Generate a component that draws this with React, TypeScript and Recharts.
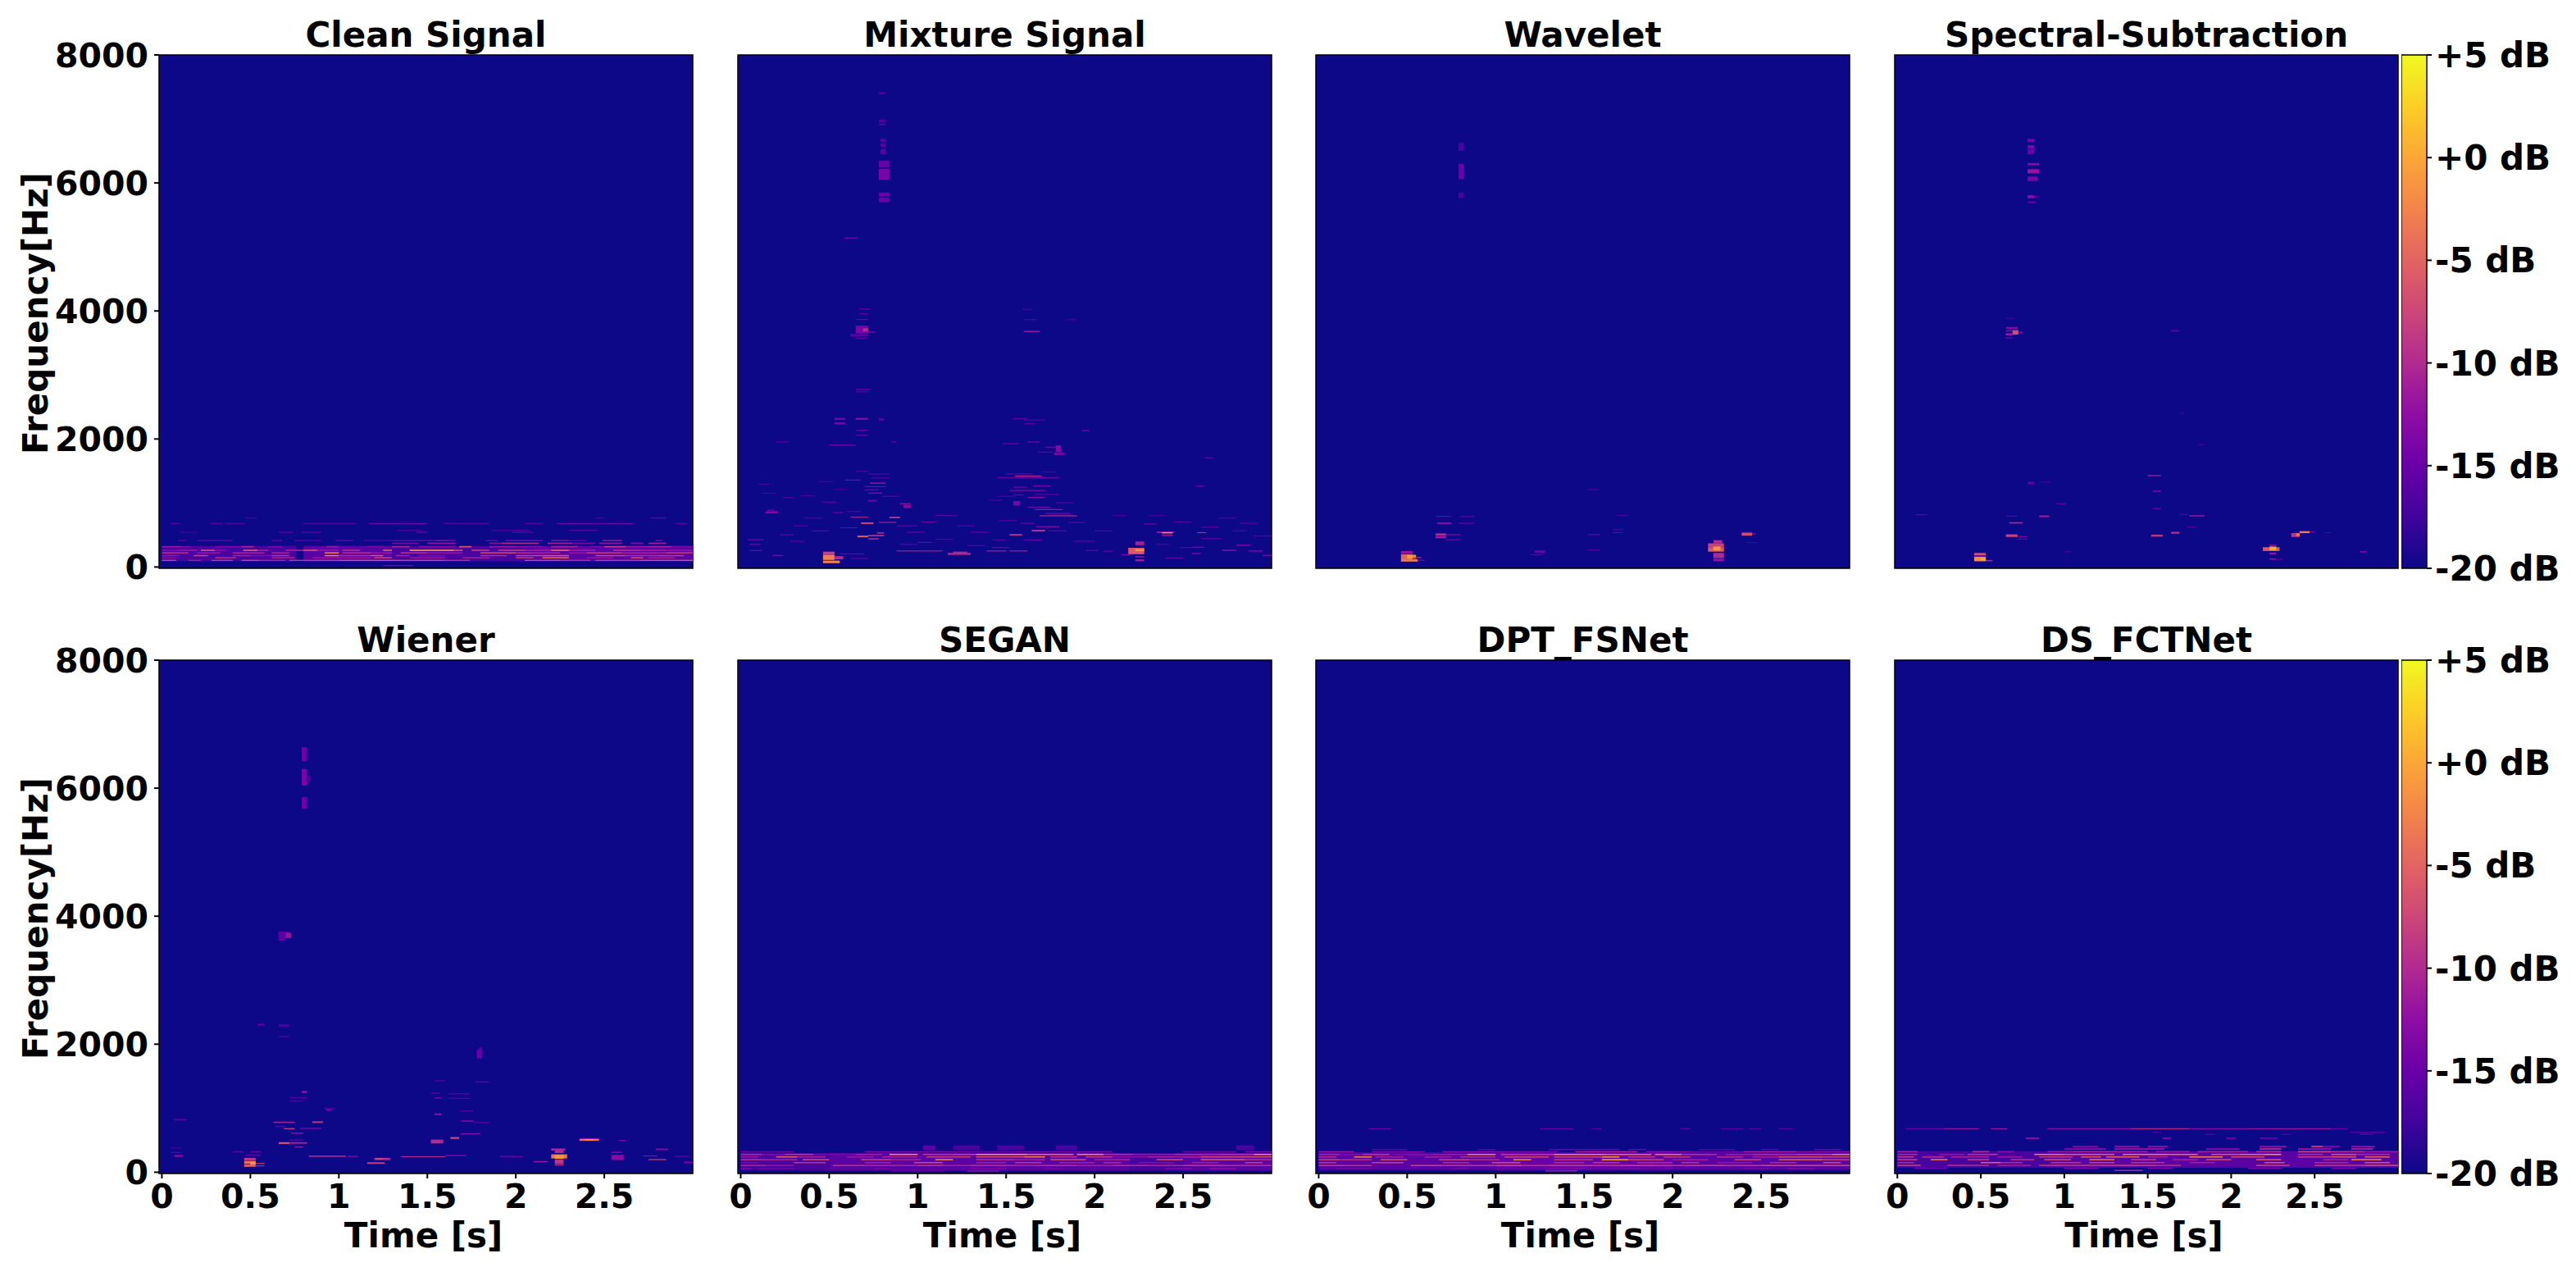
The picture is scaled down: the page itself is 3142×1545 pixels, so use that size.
import { Bar, BarChart, ReferenceArea, Scatter, ScatterChart, XAxis, YAxis } from 'recharts';

type Spot = [number, number, number, number, number]; // t0, t1, f0, f1, dB
type Row = [number, number, [number, number, number][]]; // f0, f1, runs of t0, t1, dB

const timeTicks = [0, 0.5, 1, 1.5, 2, 2.5];
const freqTicks = [0, 2000, 4000, 6000, 8000];
const dbTicks = [-20, -15, -10, -5, 0, 5];
const plasmaStops = ['#0d0887', '#41049d', '#6a00a8', '#8f0da4', '#b12a90', '#cc4778', '#e16462', '#f2844b', '#fca636', '#fcce25', '#f0f921'];

const cleanRows: Row[] = [
  [90, 330, [[0, .76, -17], [.8, 1.3, -16], [1.3, 2.1, -17], [2.1, 3, -16]]],
  [760, 772, [[.47, .54, -17], [2.45, 2.5, -17], [2.76, 2.85, -15]]],
  [674, 686, [[.05, .1, -16], [.27, .34, -16], [.36, .47, -16], [.8, 1.1, -16], [1.17, 1.5, -15], [1.59, 1.85, -16], [2.05, 2.15, -16], [2.23, 2.67, -15], [2.9, 2.97, -16]]],
  [565, 578, [[1.33, 1.47, -16], [1.86, 2.08, -16], [2.3, 2.46, -15]]],
  [535, 550, [[.1, .2, -17], [.66, .74, -15], [.79, .9, -15], [1.44, 1.5, -14], [1.98, 2.1, -15]]],
  [405, 422, [[.09, .14, -16], [.2, .4, -15], [.62, .68, -15], [.75, .9, -16], [.98, 1.08, -15], [1.14, 1.3, -16], [1.3, 1.55, -14], [1.55, 1.62, -12], [1.62, 1.66, -14], [1.83, 1.9, -14], [1.94, 2.15, -13], [2.2, 2.3, -12], [2.3, 2.4, -15], [2.49, 2.6, -11], [2.79, 2.83, -13]]],
  [360, 382, [[1.3, 1.45, -14], [1.5, 1.66, -12], [1.85, 1.92, -13], [1.92, 2.13, -10], [2.18, 2.32, -11], [2.32, 2.45, -14], [2.47, 2.6, -12], [2.65, 2.72, -13], [2.75, 2.85, -11]]],
  [305, 328, [[0, .11, -12], [.11, .16, -14], [.3, .45, -14], [.45, .52, -11], [.6, .68, -14], [.93, 1, -12], [1.16, 1.25, -14], [1.3, 1.4, -11], [1.45, 1.66, -13], [1.68, 1.75, -7], [1.85, 2, -12], [2, 2.15, -13], [2.2, 2.35, -11], [2.42, 2.5, -14], [2.5, 2.62, -9], [2.62, 2.75, -12], [2.75, 2.88, -11], [2.88, 3, -14]]],
  [250, 272, [[0, .1, -13], [.1, .2, -12], [.22, .3, -7], [.3, .36, -13], [.46, .54, -6], [.54, .6, -11], [.7, .8, -11], [.8, .88, -7], [.88, 1, -12], [1.02, 1.12, -10], [1.25, 1.3, -6], [1.4, 1.65, -2], [1.65, 1.7, -7], [1.75, 1.85, -9], [1.9, 2.05, -9], [2.05, 2.2, -11], [2.2, 2.3, -5], [2.3, 2.45, -11], [2.55, 2.7, -10], [2.7, 2.85, -11], [2.85, 3, -12]]],
  [210, 232, [[0, .15, -10], [.2, .33, -12], [.4, .58, -11], [.62, .72, -11], [.92, 1, -4], [1.02, 1.18, -10], [1.18, 1.3, -12], [1.35, 1.5, -10], [1.5, 1.7, -12], [1.8, 2, -8], [2, 2.1, -10], [2.1, 2.25, -11], [2.3, 2.4, -12], [2.4, 2.6, -9], [2.6, 2.85, -11], [2.85, 3, -9]]],
  [168, 188, [[0, .1, -12], [.18, .26, -8], [.4, .5, -11], [.5, .62, -13], [.62, .72, -9], [.92, 1, -3], [1, 1.18, -10], [1.18, 1.25, -6], [1.32, 1.4, -11], [1.45, 1.6, -13], [1.8, 1.95, -10], [2, 2.15, -8], [2.15, 2.3, -6], [2.45, 2.62, -8], [2.62, 2.8, -10], [2.8, 2.95, -9]]],
  [135, 155, [[0, .08, -13], [.3, .42, -10], [.62, .75, -11], [.85, 1, -12], [1, 1.18, -12], [1.2, 1.3, -8], [1.4, 1.6, -12], [1.7, 1.85, -11], [2, 2.1, -9], [2.15, 2.3, -5], [2.4, 2.55, -12], [2.65, 2.72, -7], [2.75, 2.9, -11]]],
  [96, 112, [[0, .08, -7], [.15, .22, -11], [.28, .4, -8], [.45, .55, -7], [.55, .7, -10], [.72, .82, -8], [.82, 1, -8], [1, 1.35, -6], [1.35, 1.6, -7], [1.6, 1.74, -9], [2.05, 2.25, -7], [2.25, 2.42, -9], [2.45, 2.7, -8], [2.7, 3, -6]]],
  [18, 28, [[1.25, 1.42, -14]]],
];

const mixtureSpots: Spot[] = [
  [.78, .82, 7380, 7420, -17], [.78, .82, 6950, 6990, -17], [.78, .82, 6900, 6930, -17],
  [.79, .82, 6640, 6690, -16], [.79, .82, 6560, 6620, -16], [.79, .82, 6450, 6530, -16],
  [.78, .84, 6240, 6350, -15], [.78, .84, 6050, 6220, -14], [.78, .84, 5790, 5850, -15], [.78, .84, 5700, 5770, -15],
  [.59, .66, 5130, 5150, -15], [.67, .73, 4020, 4040, -16], [.67, .72, 3950, 3965, -16], [.65, .72, 3860, 3875, -15],
  [.65, .72, 3650, 3770, -14], [.69, .72, 3680, 3730, -10], [.72, .76, 3660, 3680, -14], [.62, .72, 3600, 3640, -16], [.65, .72, 3565, 3580, -16],
  [1.59, 1.65, 4020, 4030, -17], [1.6, 1.67, 3860, 3870, -16], [1.6, 1.69, 3670, 3690, -12], [1.84, 1.9, 3860, 3870, -17],
  [.65, .73, 2765, 2785, -16], [.65, .72, 2730, 2745, -16], [.53, .59, 2230, 2260, -14], [.53, .59, 2300, 2330, -14], [.65, .72, 2300, 2330, -13],
  [.65, .72, 2130, 2145, -15], [.65, .72, 2050, 2070, -16], [.78, .81, 2290, 2320, -15], [1.54, 1.62, 2310, 2325, -16], [1.6, 1.72, 2290, 2305, -16],
  [1.6, 1.66, 2230, 2245, -15], [1.93, 1.97, 2120, 2140, -15], [.2, .27, 1950, 1960, -16], [.5, .65, 1895, 1915, -15], [.85, .88, 1945, 1965, -16],
  [1.48, 1.57, 1920, 1935, -15], [1.62, 1.69, 1945, 1960, -14], [1.78, 1.81, 1800, 1900, -13], [1.77, 1.83, 1750, 1790, -14], [1.72, 1.78, 1860, 1880, -15], [1.68, 1.76, 1790, 1800, -16],
  [.65, .72, 1490, 1500, -16], [1.55, 1.7, 1412, 1428, -10], [1.45, 1.8, 1392, 1400, -15], [1.5, 1.65, 1450, 1460, -15],
  [.59, .68, 1352, 1365, -14], [.73, .82, 1302, 1318, -11], [.7, .82, 1250, 1262, -14], [.7, .78, 1200, 1212, -14], [.72, .8, 1145, 1165, -14], [.72, .77, 1020, 1050, -15],
  [.9, .96, 982, 998, -12], [.92, .96, 920, 970, -13], [1.54, 1.62, 1240, 1255, -14], [1.65, 1.75, 1260, 1275, -14], [1.52, 1.72, 1190, 1203, -13], [1.54, 1.6, 1120, 1135, -15],
  [1.62, 1.72, 1080, 1095, -13], [1.54, 1.58, 960, 1030, -14], [1.62, 1.75, 925, 945, -15], [1.66, 1.82, 890, 905, -12], [1.72, 1.86, 830, 845, -14],
  [.14, .21, 840, 870, -13], [.15, .19, 880, 900, -15], [.52, .58, 845, 855, -15], [.6, .68, 860, 875, -16], [.62, .72, 772, 788, -11], [.68, .75, 672, 698, -8],
  [.84, .9, 762, 785, -9], [.78, .88, 690, 705, -11], [.66, .72, 465, 490, -5], [.72, .81, 480, 500, -9], [.72, .78, 430, 450, -10], [.77, .81, 520, 545, -11],
  [.04, .13, 420, 435, -14], [.05, .11, 345, 365, -15], [.05, .12, 250, 265, -14], [.18, .24, 170, 190, -14], [.88, 1.14, 244, 258, -11], [1.17, 1.3, 190, 220, -10], [1.2, 1.28, 215, 240, -10],
  [1.39, 1.5, 244, 258, -11], [1.52, 1.62, 244, 258, -11], [1.52, 1.59, 490, 515, -9], [1.645, 1.72, 555, 580, -9], [1.67, 1.8, 622, 638, -13], [1.69, 1.9, 792, 808, -10],
  [2.28, 2.35, 665, 680, -14], [2.35, 2.45, 530, 555, -12], [2.38, 2.44, 525, 545, -2], [2.58, 2.63, 530, 545, -10], [2.38, 2.44, 480, 510, -13],
  [2.19, 2.28, 200, 300, -6], [2.23, 2.28, 250, 280, -1], [2.23, 2.28, 340, 400, -11], [2.23, 2.28, 90, 120, -11], [2.23, 2.28, 150, 170, -12],
  [.465, .53, 190, 240, -8], [.465, .53, 110, 190, -3], [.465, .56, 60, 100, -3], [.53, .58, 120, 170, -10],
  [2.72, 2.8, 250, 270, -13], [2.8, 2.88, 330, 350, -14], [2.87, 2.95, 240, 260, -14], [2.95, 3, 170, 190, -14], [2.15, 2.2, 180, 200, -14], [1.95, 2.02, 250, 265, -15], [2.05, 2.1, 240, 255, -15],
  [2.4, 2.5, 130, 150, -16], [2.55, 2.62, 300, 320, -15], [2.55, 2.6, 200, 220, -14], [2.57, 2.62, 1260, 1270, -15], [2.62, 2.67, 1700, 1715, -15],
  // faint streaks of the lower band
  [.1, .16, 1290, 1298, -17], [.24, .3, 1080, 1090, -16], [.34, .42, 1110, 1118, -17], [.46, .54, 1010, 1020, -16], [.12, .2, 1150, 1158, -17],
  [.36, .46, 760, 768, -16], [.3, .38, 640, 648, -16], [.44, .52, 1330, 1338, -17], [.4, .5, 560, 568, -15], [.22, .3, 500, 508, -16], [.28, .36, 400, 408, -16],
  [.56, .66, 610, 618, -15], [.52, .6, 1210, 1218, -17], [.72, .84, 1450, 1458, -16], [.74, .84, 1385, 1393, -16], [.8, .9, 1100, 1108, -16], [.88, 1, 640, 648, -15],
  [.94, 1.04, 540, 548, -15], [1.02, 1.1, 700, 708, -15], [1.1, 1.22, 800, 808, -16], [1.22, 1.32, 640, 648, -16], [1.3, 1.4, 540, 548, -15], [1.0, 1.08, 380, 388, -15],
  [.9, 1, 350, 358, -16], [1.1, 1.2, 430, 438, -16], [1.28, 1.38, 330, 338, -16], [1.42, 1.52, 300, 308, -15], [1.42, 1.5, 420, 428, -16], [1.4, 1.48, 1040, 1048, -17],
  [1.45, 1.55, 1100, 1108, -17], [1.46, 1.56, 720, 728, -16], [1.58, 1.66, 680, 688, -15], [1.6, 1.7, 420, 428, -15], [1.74, 1.84, 560, 568, -15], [1.78, 1.88, 1000, 1008, -16],
  [1.66, 1.8, 1130, 1138, -16], [1.7, 1.78, 1480, 1488, -17], [1.85, 1.95, 690, 698, -16], [1.88, 2, 400, 408, -16], [2, 2.1, 560, 568, -16], [2.1, 2.18, 800, 808, -17],
  [2.3, 2.4, 800, 808, -17], [2.45, 2.55, 700, 708, -16], [2.6, 2.7, 620, 628, -16], [2.7, 2.8, 760, 768, -16], [2.82, 2.92, 680, 688, -16], [2.9, 3, 480, 488, -16],
  [2.6, 2.72, 440, 448, -16], [2.78, 2.86, 560, 568, -16], [2.35, 2.42, 350, 358, -16], [2.48, 2.56, 300, 308, -16], [.56, .7, 200, 208, -15], [.62, .72, 130, 138, -16],
];

const waveletSpots: Spot[] = [
  [.79, .82, 6500, 6630, -17], [.79, .82, 6060, 6300, -15], [.79, .82, 5760, 5850, -17],
  [.66, .75, 787, 798, -15], [.8, .88, 782, 798, -16], [.67, .75, 672, 698, -13], [.79, .88, 677, 690, -15], [.66, .72, 490, 525, -10], [.72, .8, 500, 510, -13], [.66, .72, 450, 480, -11], [.72, .8, 420, 435, -14],
  [1.52, 1.58, 1200, 1220, -17], [1.52, 1.59, 500, 515, -15], [1.68, 1.75, 800, 815, -17], [1.66, 1.72, 580, 590, -16], [1.66, 1.72, 530, 545, -16], [1.52, 1.59, 260, 272, -16],
  [1.22, 1.28, 220, 260, -15], [1.2, 1.26, 185, 200, -16],
  [.465, .53, 210, 250, -12], [.465, .53, 120, 200, -5], [.5, .55, 130, 190, -1], [.465, .56, 85, 120, -3], [.53, .58, 140, 155, -10], [.56, .6, 100, 110, -14],
  [2.23, 2.28, 370, 420, -10], [2.2, 2.29, 310, 370, -8], [2.2, 2.29, 240, 310, -6], [2.23, 2.27, 260, 320, -1], [2.23, 2.29, 140, 220, -10], [2.23, 2.29, 90, 130, -12],
  [2.39, 2.45, 490, 540, -7], [2.39, 2.45, 530, 545, -12], [2.45, 2.47, 510, 525, -12], [2.42, 2.48, 375, 390, -17],
];

const spectralSpots: Spot[] = [
  [.78, .82, 6640, 6690, -14], [.78, .82, 6540, 6590, -14], [.78, .82, 6450, 6530, -15], [.78, .85, 6275, 6310, -13], [.78, .85, 6150, 6215, -12], [.78, .84, 6030, 6100, -14], [.78, .82, 5760, 5810, -13], [.82, .85, 5765, 5800, -17], [.78, .83, 5685, 5710, -15],
  [.65, .72, 3720, 3750, -13], [.65, .7, 3680, 3700, -13], [.69, .725, 3630, 3700, -7], [.725, .75, 3650, 3680, -14], [.65, .69, 3620, 3650, -11], [.65, .69, 3570, 3590, -15], [.65, .7, 3880, 3890, -17],
  [1.64, 1.69, 3680, 3700, -15], [1.69, 1.72, 2395, 2410, -17], [1.8, 1.84, 1905, 1920, -17],
  [.78, .82, 1290, 1330, -16], [.86, .92, 1320, 1330, -17], [1.5, 1.58, 1420, 1440, -12], [1.53, 1.58, 1170, 1200, -15], [1.53, 1.58, 905, 925, -16], [.95, 1.01, 985, 995, -15],
  [.11, .18, 810, 825, -15], [.65, .72, 790, 800, -16], [.67, .75, 680, 700, -10], [.85, .91, 780, 805, -11],
  [1.69, 1.74, 815, 830, -16], [1.75, 1.84, 790, 810, -12], [1.73, 1.79, 620, 630, -16], [1.64, 1.69, 520, 550, -10], [1.52, 1.59, 475, 505, -9],
  [.65, .72, 470, 510, -8], [.72, .78, 470, 480, -14], [.72, .78, 430, 440, -15],
  [.46, .53, 180, 220, -7], [.46, .525, 165, 175, -14], [.46, .53, 90, 160, -2], [.5, .53, 100, 145, 0], [.53, .57, 90, 110, -10],
  [2.19, 2.29, 250, 310, -6], [2.23, 2.27, 260, 320, 0], [2.23, 2.27, 330, 350, -12], [2.23, 2.27, 195, 225, -12], [2.23, 2.27, 115, 135, -12], [2.27, 2.31, 115, 125, -15],
  [2.36, 2.41, 470, 530, -9], [2.39, 2.41, 480, 530, -4], [2.41, 2.47, 530, 560, -3], [2.47, 2.5, 540, 555, -13],
  [2.56, 2.6, 530, 545, -17], [2.77, 2.81, 225, 250, -14], [1, 1.04, 235, 240, -17],
];

const wienerSpots: Spot[] = [
  [.79, .82, 6420, 6640, -15], [.79, .82, 6040, 6300, -14], [.82, .84, 6100, 6200, -17], [.79, .82, 5680, 5860, -15],
  [.658, .72, 3650, 3760, -16], [.7, .73, 3660, 3740, -12], [.66, .7, 3620, 3650, -15],
  [.54, .58, 2290, 2320, -16], [.66, .72, 2270, 2310, -17], [.66, .72, 2110, 2130, -17], [1.78, 1.81, 1780, 1920, -15], [1.79, 1.81, 1920, 1950, -16],
  [.79, .82, 1240, 1270, -12], [.72, .82, 1160, 1170, -16], [.72, .8, 1110, 1120, -17], [.92, .98, 985, 1000, -15], [.93, .96, 960, 985, -14],
  [1.54, 1.6, 1420, 1440, -17], [1.52, 1.57, 1230, 1240, -15], [1.62, 1.74, 1220, 1230, -16], [1.54, 1.58, 1150, 1170, -14], [1.62, 1.74, 1150, 1160, -16], [1.77, 1.85, 1400, 1420, -16],
  [1.54, 1.58, 890, 920, -13], [1.69, 1.76, 950, 965, -16], [1.69, 1.76, 790, 810, -13], [1.76, 1.85, 770, 785, -16],
  [.63, .75, 770, 790, -11], [.85, .91, 770, 795, -9], [.78, .9, 680, 690, -13], [.69, .75, 670, 690, -9], [.64, .7, 710, 720, -15], [.73, .8, 600, 620, -13],
  [.66, .72, 440, 470, -7], [.72, .82, 445, 470, -11], [.72, .8, 500, 510, -15], [.75, .8, 385, 400, -11], [.07, .14, 810, 830, -15],
  [1.52, 1.59, 450, 510, -10], [1.63, 1.68, 520, 550, -8], [1.69, 1.76, 590, 610, -13], [1.76, 1.8, 595, 610, -13],
  [2.36, 2.47, 490, 520, -4], [2.36, 2.47, 520, 530, -12], [2.39, 2.44, 500, 515, -1], [2.58, 2.62, 490, 505, -14],
  [2.2, 2.28, 340, 370, -10], [2.22, 2.27, 300, 340, -10], [2.2, 2.29, 215, 280, -4], [2.22, 2.27, 210, 270, -1], [2.22, 2.27, 130, 200, -9], [2.22, 2.27, 105, 125, -10],
  [.83, 1.04, 240, 260, -10], [1.05, 1.11, 240, 255, -13], [1.35, 1.6, 235, 250, -10], [1.6, 1.72, 250, 270, -14], [1.91, 2, 240, 255, -14], [2, 2.04, 240, 250, -15],
  [1.2, 1.29, 190, 225, -10], [1.16, 1.26, 130, 155, -8], [1.21, 1.25, 200, 220, -7], [2.1, 2.18, 155, 175, -12],
  [.05, .11, 300, 315, -16], [.07, .12, 240, 270, -13], [.05, .11, 375, 385, -17], [2.54, 2.6, 300, 320, -14], [2.54, 2.61, 190, 270, -13],
  [2.75, 2.85, 190, 205, -8], [2.72, 2.8, 250, 260, -13], [2.79, 2.86, 345, 370, -13], [2.9, 2.98, 240, 255, -15], [2.95, 3, 140, 165, -14],
  [.465, .53, 180, 225, -9], [.465, .53, 130, 175, -4], [.5, .53, 120, 165, -1], [.465, .53, 85, 120, -5], [.53, .58, 130, 145, -8], [.53, .58, 95, 105, -10],
  [.4, .46, 310, 330, -16], [.5, .56, 310, 330, -15], [.47, .56, 260, 280, -16],
];

const seganRows: Row[] = [
  [30, 300, [[0, .5, -17], [.5, 1, -16], [1, 2.2, -16], [2.2, 2.5, -17], [2.5, 3, -16]]],
  [345, 420, [[1.03, 1.1, -16], [1.2, 1.35, -17], [1.45, 1.6, -17], [1.78, 1.9, -17], [2.8, 2.9, -17]]],
  [312, 330, [[0, .3, -15], [.7, 1, -14], [1, 1.3, -14], [1.3, 1.55, -15], [1.55, 1.8, -14], [1.8, 2.1, -14], [2.5, 2.8, -15], [2.85, 3, -14]]],
  [268, 288, [[0, .12, -10], [.12, .25, -13], [.25, .41, -9], [.41, .5, -14], [.5, .65, -14], [.65, .8, -11], [.84, 1, -2], [1.03, 1.2, -9], [1.2, 1.33, -8], [1.33, 1.62, -1], [1.62, 1.88, -4], [1.9, 2.05, -2], [2.05, 2.22, -10], [2.22, 2.45, -12], [2.45, 2.7, -10], [2.7, 2.9, -9], [2.9, 3, -2]]],
  [228, 250, [[0, .1, -12], [.2, .32, -6], [.32, .48, -11], [.6, .75, -12], [.8, 1, -11], [1.05, 1.3, -9], [1.33, 1.6, -8], [1.6, 1.72, -4], [1.75, 1.9, -10], [1.95, 2.1, -9], [2.1, 2.3, -13], [2.3, 2.6, -11], [2.6, 2.8, -8], [2.8, 3, -8]]],
  [185, 207, [[0, .12, -10], [.12, .32, -11], [.35, .5, -8], [.68, .85, -9], [.85, 1.02, -11], [1.1, 1.2, -4], [1.33, 1.55, -10], [1.55, 1.72, -11], [1.75, 1.95, -8], [2, 2.2, -11], [2.35, 2.5, -8], [2.6, 2.85, -7], [2.85, 3, -10]]],
  [140, 160, [[0, .1, -14], [.3, .48, -9], [.7, .85, -11], [.98, 1.14, -7], [1.33, 1.5, -11], [1.55, 1.7, -9], [1.8, 2, -11], [2.05, 2.15, -10], [2.25, 2.45, -13], [2.55, 2.7, -11], [2.85, 2.95, -8]]],
  [100, 112, [[0, .14, -9], [.14, .3, -11], [.52, .7, -8], [.7, 1, -9], [1, 1.15, -7], [1.15, 1.3, -10], [1.3, 1.5, -8], [1.5, 1.7, -9], [1.7, 1.9, -8], [1.9, 2.1, -10], [2.1, 2.3, -8], [2.3, 2.5, -9], [2.5, 2.75, -7], [2.75, 3, -8]]],
  [50, 66, [[0, .06, -13], [.1, .3, -14], [.75, .85, -14], [1.3, 1.5, -13], [1.72, 1.82, -14], [2.4, 2.55, -13], [2.65, 2.8, -12]]],
  [15, 24, [[.85, 1.15, -15], [1.28, 1.46, -11]]],
];

const dptRows: Row[] = [
  [35, 310, [[0, 1, -16], [1, 2, -15], [2, 3, -16]]],
  [674, 684, [[.28, .41, -15], [1.25, 1.44, -15], [1.54, 1.6, -16], [2.04, 2.1, -16], [2.27, 2.4, -16], [2.43, 2.5, -16], [2.6, 2.68, -16]]],
  [345, 365, [[.3, .5, -16], [.9, 1, -16], [1.3, 1.7, -15], [1.75, 1.85, -15], [2.15, 2.35, -16], [2.5, 2.6, -16], [2.8, 2.95, -15]]],
  [310, 330, [[0, .2, -12], [.3, .6, -14], [.7, 1, -13], [1, 1.35, -14], [1.45, 1.8, -11], [1.85, 2.1, -13], [2.1, 2.4, -15], [2.4, 2.7, -11], [2.7, 3, -13]]],
  [268, 286, [[0, .12, -10], [.12, .25, -13], [.25, .4, -8], [.42, .5, -13], [.5, .65, -12], [.65, .84, -11], [.84, 1, -1], [1.03, 1.33, -8], [1.33, 1.62, -1], [1.62, 1.88, -3], [1.9, 2.05, -2], [2.05, 2.25, -9], [2.3, 2.45, -11], [2.45, 2.7, -9], [2.7, 2.9, -7], [2.9, 3, -1]]],
  [228, 248, [[0, .1, -10], [.2, .3, -3], [.32, .48, -11], [.6, .75, -11], [.8, 1, -10], [1.05, 1.3, -8], [1.33, 1.6, -8], [1.6, 1.7, -2], [1.75, 1.9, -9], [1.95, 2.1, -9], [2.25, 2.4, -10], [2.45, 2.6, -11], [2.6, 2.85, -7], [2.85, 3, -8]]],
  [185, 205, [[0, .12, -8], [.12, .3, -10], [.35, .5, -7], [.68, .85, -8], [.85, 1.02, -10], [1.1, 1.2, -3], [1.33, 1.55, -9], [1.6, 1.75, -1], [1.75, 1.95, -8], [2, 2.2, -11], [2.35, 2.5, -8], [2.6, 2.85, -6], [2.85, 3, -8]]],
  [140, 160, [[0, .1, -9], [.3, .48, -8], [.7, .85, -10], [.98, 1.14, -7], [1.33, 1.5, -10], [1.55, 1.7, -9], [1.8, 2, -10], [2.05, 2.15, -9], [2.25, 2.45, -12], [2.55, 2.7, -10], [2.85, 2.95, -7]]],
  [100, 112, [[0, .15, -7], [.15, .3, -8], [.52, .7, -6], [.7, 1, -7], [1, 1.15, -5], [1.15, 1.3, -8], [1.3, 1.5, -6], [1.5, 1.7, -7], [1.7, 1.9, -6], [1.9, 2.1, -7], [2.1, 2.3, -6], [2.3, 2.5, -7], [2.5, 2.75, -5], [2.75, 3, -5]]],
  [50, 66, [[.1, .3, -14], [.75, .85, -14], [1.3, 1.5, -13], [1.72, 1.82, -14], [2.4, 2.55, -14], [2.65, 2.8, -13]]],
  [16, 26, [[1.28, 1.46, -10]]],
];

const dsRows: Row[] = [
  [70, 330, [[0, .9, -17], [.9, 1.7, -16], [1.7, 2.3, -16], [2.3, 3, -16]]],
  [675, 684, [[.05, .28, -15], [.28, .49, -12], [.56, .66, -12], [.9, 1.4, -13], [1.4, 1.75, -10], [1.75, 2.1, -13], [2.1, 2.6, -12], [2.6, 2.7, -15]]],
  [615, 630, [[2.71, 2.92, -15], [1.53, 1.58, -16]]],
  [585, 600, [[2.3, 2.36, -16], [2.77, 2.85, -15], [1.85, 1.9, -15]]],
  [518, 545, [[.77, .85, -13], [1.59, 1.64, -14], [1.97, 2.03, -15], [2.17, 2.28, -16]]],
  [390, 415, [[1.05, 1.2, -14], [1.3, 1.45, -13], [1.5, 1.62, -13], [2.17, 2.33, -13], [2.48, 2.55, -9], [2.55, 2.65, -14], [2.72, 2.86, -13]]],
  [350, 375, [[1, 1.25, -13], [1.3, 1.6, -12], [1.85, 2.05, -13], [2.17, 2.3, -10], [2.4, 2.6, -12], [2.72, 2.85, -11]]],
  [310, 332, [[0, .12, -11], [.45, .55, -10], [.6, .7, -13], [.9, 1.05, -12], [1.05, 1.5, -11], [1.55, 1.75, -12], [1.8, 2.1, -11], [2.15, 2.3, -10], [2.4, 2.6, -8], [2.6, 2.8, -10], [2.8, 3, -12]]],
  [268, 288, [[0, .12, -10], [.25, .4, -12], [.42, .6, -9], [.82, 1, -3], [1, 1.3, -5], [1.35, 1.62, -3], [1.62, 1.8, -4], [1.88, 2.05, -6], [2.05, 2.2, -4], [2.2, 2.3, -1], [2.4, 2.55, -10], [2.6, 2.75, -6], [2.75, 2.95, -10]]],
  [228, 250, [[0, .1, -9], [.15, .28, -10], [.32, .55, -11], [.6, .75, -12], [.85, 1.05, -9], [1.1, 1.22, -7], [1.25, 1.45, -6], [1.5, 1.62, -11], [1.75, 1.95, -4], [2, 2.2, -8], [2.4, 2.6, -9], [2.6, 2.75, -7], [2.8, 2.95, -6]]],
  [185, 207, [[0, .12, -9], [.2, .3, -5], [.42, .55, -9], [.68, .82, -10], [.88, 1.04, -8], [1.15, 1.3, -5], [1.4, 1.55, -9], [1.65, 1.8, -11], [1.85, 2, -8], [2.15, 2.3, -7], [2.55, 2.7, -11], [2.72, 2.9, -4]]],
  [140, 160, [[0, .1, -10], [.5, .62, -5], [.62, .75, -10], [.92, 1.1, -9], [1.15, 1.3, -8], [1.4, 1.6, -9], [1.75, 1.9, -11], [2.2, 2.32, -6], [2.5, 2.7, -10], [2.8, 2.95, -6]]],
  [100, 114, [[0, .14, -6], [.3, .55, -8], [.6, .8, -10], [.85, 1.2, -7], [1.2, 1.55, -6], [1.55, 1.7, -8], [2.15, 2.35, -6], [2.5, 2.8, -7], [2.8, 3, -4]]],
  [50, 70, [[.1, .3, -15], [1, 1.2, -14], [1.5, 1.65, -14], [2.1, 2.3, -14], [2.6, 2.75, -14]]],
  [24, 32, [[1.3, 1.47, -9]]],
];

const TICK_FONT = 'DejaVu Sans';
const BACKGROUND = plasmaStops[0];
const DB_MIN = -20;
const DB_MAX = 5;
const X_DOMAIN: [number, number] = [-0.016, 3];
const Y_DOMAIN: [number, number] = [-20, 8000];
const COL_LEFT = [194, 900, 1605, 2311];
const COL_WIDTH = [651, 651, 651, 614];
const ROW_TOP = [0, 738];
const PLOT_TOP = 67;
const PLOT_HEIGHT = 626;

function hexToRgb(hex: string) {
  return [1, 3, 5].map(i => parseInt(hex.slice(i, i + 2), 16));
}

function plasma(db: number) {
  const pos = Math.min(0.9999, Math.max(0, (db - DB_MIN) / (DB_MAX - DB_MIN))) * (plasmaStops.length - 1);
  const i = Math.floor(pos);
  const a = hexToRgb(plasmaStops[i]);
  const b = hexToRgb(plasmaStops[i + 1]);
  const mixed = a.map((c, k) => Math.round(c + (b[k] - c) * (pos - i)));
  return `rgb(${mixed.join(',')})`;
}

function toCells(rows: Row[], spots: Spot[]) {
  const flat: Spot[] = rows.flatMap(([f0, f1, runs]) => runs.map(([t0, t1, db]) => [t0, t1, f0, f1, db] as Spot));
  return [...flat, ...spots].map(([t0, t1, f0, f1, db]) => ({
    t: (t0 + t1) / 2,
    f: (f0 + f1) / 2,
    dt: t1 - t0,
    df: f1 - f0,
    db,
  }));
}

const panels = [
  { title: 'Clean Signal', cells: toCells(cleanRows, []) },
  { title: 'Mixture Signal', cells: toCells([], mixtureSpots) },
  { title: 'Wavelet', cells: toCells([], waveletSpots) },
  { title: 'Spectral-Subtraction', cells: toCells([], spectralSpots) },
  { title: 'Wiener', cells: toCells([], wienerSpots) },
  { title: 'SEGAN', cells: toCells(seganRows, []) },
  { title: 'DPT_FSNet', cells: toCells(dptRows, []) },
  { title: 'DS_FCTNet', cells: toCells(dsRows, []) },
];

const tickStyle = { fontFamily: TICK_FONT, fontSize: 41, fontWeight: 700, fill: '#000' };
const labelStyle = { fontFamily: TICK_FONT, fontSize: 42, fontWeight: 700, fill: '#000' };

function Panel({ title, cells, row, col }: { title: string; cells: ReturnType<typeof toCells>; row: number; col: number }) {
  const width = COL_WIDTH[col];
  const leftPad = col === 0 ? COL_LEFT[0] : 30;
  const pxPerS = width / (X_DOMAIN[1] - X_DOMAIN[0]);
  const pxPerHz = PLOT_HEIGHT / (Y_DOMAIN[1] - Y_DOMAIN[0]);
  const shape = (props: any) => {
    const { cx, cy, payload } = props;
    const w = payload.dt * pxPerS;
    const h = Math.max(1.2, payload.df * pxPerHz);
    return <rect x={cx - w / 2} y={cy - h / 2} width={w} height={h} fill={plasma(payload.db)} />;
  };
  return (
    <div style={{ position: 'absolute', left: COL_LEFT[col] - leftPad, top: ROW_TOP[row] }}>
      <ScatterChart
        width={leftPad + width + 2}
        height={row === 0 ? 730 : 807}
        margin={{ top: PLOT_TOP, right: 2, bottom: row === 0 ? 37 : 54, left: col === 0 ? 0 : leftPad }}
      >
        <XAxis
          type="number"
          dataKey="t"
          domain={X_DOMAIN}
          allowDataOverflow
          ticks={timeTicks}
          interval={0}
          hide={row === 0}
          height={60}
          axisLine={false}
          tickSize={6}
          tickMargin={7}
          tickLine={{ stroke: '#000', strokeWidth: 2 }}
          tick={tickStyle}
        />
        <YAxis
          type="number"
          dataKey="f"
          domain={Y_DOMAIN}
          allowDataOverflow
          ticks={freqTicks}
          interval={0}
          hide={col !== 0}
          width={194}
          axisLine={false}
          tickSize={6}
          tickMargin={7}
          tickLine={{ stroke: '#000', strokeWidth: 2 }}
          tick={tickStyle}
        />
        <ReferenceArea x1={X_DOMAIN[0]} x2={X_DOMAIN[1]} y1={Y_DOMAIN[0]} y2={Y_DOMAIN[1]} fill={BACKGROUND} fillOpacity={1} stroke="#000" strokeWidth={1.5} />
        <Scatter data={cells} shape={shape} isAnimationActive={false} />
        <text x={leftPad + width / 2} y={57} textAnchor="middle" {...labelStyle}>{title}</text>
        {col === 0 && (
          <text x={58} y={382} textAnchor="middle" transform="rotate(-90 58 382)" {...labelStyle}>Frequency[Hz]</text>
        )}
        {row === 1 && (
          <text x={leftPad + width / 2 - 3} y={783} textAnchor="middle" {...labelStyle}>Time [s]</text>
        )}
      </ScatterChart>
    </div>
  );
}

function ColorBar({ row }: { row: number }) {
  const id = `plasma-${row}`;
  return (
    <div style={{ position: 'absolute', left: 2929, top: ROW_TOP[row] }}>
      <BarChart
        width={213}
        height={730}
        data={[{ name: 'dB', range: [DB_MIN, DB_MAX] }]}
        margin={{ top: PLOT_TOP, right: 0, bottom: 37, left: 0 }}
        barCategoryGap={0}
      >
        <defs>
          <linearGradient id={id} x1="0" y1="1" x2="0" y2="0">
            {plasmaStops.map((c, i) => (
              <stop key={c} offset={i / (plasmaStops.length - 1)} stopColor={c} />
            ))}
          </linearGradient>
        </defs>
        <XAxis dataKey="name" hide />
        <YAxis
          orientation="right"
          type="number"
          domain={[DB_MIN, DB_MAX]}
          ticks={dbTicks}
          interval={0}
          width={182}
          axisLine={false}
          tickSize={6}
          tickMargin={4}
          tickLine={{ stroke: '#000', strokeWidth: 2 }}
          tick={labelStyle}
          tickFormatter={(v: number) => (v >= 0 ? `+${v} dB` : `${v} dB`)}
        />
        <Bar dataKey="range" fill={`url(#${id})`} stroke="#000" strokeWidth={1.5} isAnimationActive={false} />
      </BarChart>
    </div>
  );
}

export default function App() {
  return (
    <div style={{ position: 'absolute', left: 0, top: 0, width: 3142, height: 1545, background: '#fff', overflow: 'hidden' }}>
      {panels.map((p, i) => (
        <Panel key={p.title} title={p.title} cells={p.cells} row={Math.floor(i / 4)} col={i % 4} />
      ))}
      <ColorBar row={0} />
      <ColorBar row={1} />
    </div>
  );
}
